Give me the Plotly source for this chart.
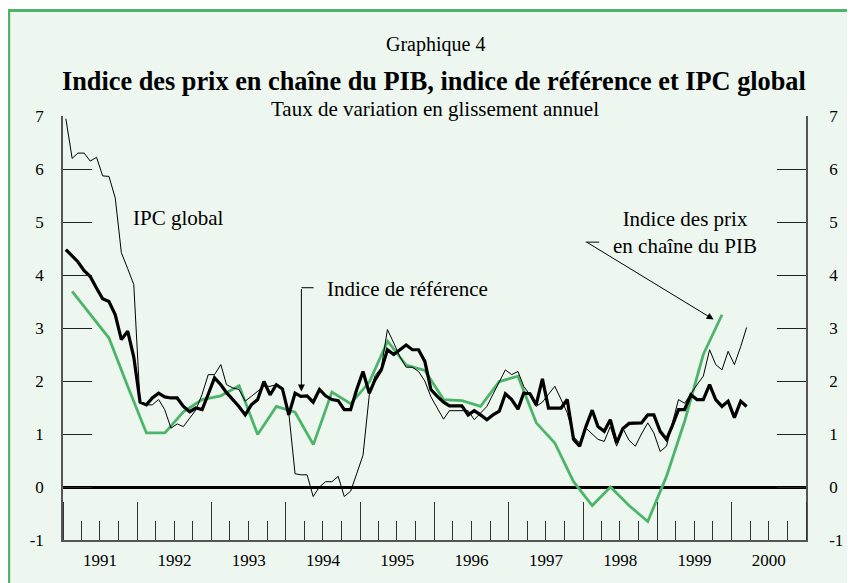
import plotly.graph_objects as go
import pandas as pd

# ---------------- data ----------------
ipc_global = [
    6.95, 6.20, 6.30, 6.30, 6.15, 6.22, 5.87, 5.86, 5.45, 4.42, 4.12, 3.82,   # 1991
    1.58, 1.55, 1.55, 1.65, 1.46, 1.11, 1.19, 1.14, 1.30, 1.45, 1.75, 2.12,   # 1992
    2.12, 2.31, 1.93, 1.87, 1.84, 1.62, 1.71, 1.80, 1.90, 1.90, 1.93, 1.84,   # 1993
    1.40, 0.25, 0.23, 0.23, -0.18, 0.00, 0.10, 0.10, 0.20, -0.18, -0.08, 0.25,  # 1994
    0.60, 1.74, 2.10, 2.25, 2.97, 2.72, 2.46, 2.26, 2.26, 2.18, 2.00, 1.70,   # 1995
    1.50, 1.28, 1.44, 1.44, 1.44, 1.44, 1.27, 1.40, 1.52, 1.75, 1.99, 2.21,   # 1996
    2.12, 2.18, 1.90, 1.74, 1.52, 1.60, 1.75, 1.90, 1.65, 1.40, 0.95, 0.83,   # 1997
    1.11, 1.00, 0.90, 0.86, 1.14, 0.77, 1.11, 0.88, 0.77, 1.00, 1.21, 1.02,   # 1998
    0.67, 0.77, 1.20, 1.65, 1.58, 1.77, 1.93, 2.09, 2.59, 2.31, 2.21, 2.56,   # 1999
    2.31, 2.65, 3.01,                                                         # 2000
]
indice_reference = [
    4.48, 4.35, 4.25, 4.08, 3.97, 3.75, 3.55, 3.50, 3.25, 2.78, 2.94, 2.45,   # 1991
    1.60, 1.55, 1.68, 1.77, 1.70, 1.68, 1.68, 1.52, 1.42, 1.49, 1.46, 1.75,   # 1992
    2.06, 1.93, 1.78, 1.65, 1.52, 1.36, 1.55, 1.65, 1.99, 1.74, 1.93, 1.85,   # 1993
    1.36, 1.77, 1.71, 1.72, 1.60, 1.84, 1.72, 1.65, 1.63, 1.46, 1.46, 1.84,   # 1994
    2.18, 1.77, 2.02, 2.21, 2.59, 2.50, 2.59, 2.68, 2.59, 2.59, 2.37, 1.84,   # 1995
    1.71, 1.60, 1.53, 1.53, 1.53, 1.36, 1.44, 1.36, 1.27, 1.36, 1.43, 1.76,   # 1996
    1.65, 1.47, 1.77, 1.76, 1.55, 2.04, 1.49, 1.49, 1.49, 1.65, 0.90, 0.77,   # 1997
    1.14, 1.45, 1.14, 1.05, 1.27, 0.83, 1.10, 1.20, 1.21, 1.21, 1.36, 1.36,   # 1998
    1.05, 0.90, 1.15, 1.46, 1.46, 1.74, 1.65, 1.65, 1.93, 1.65, 1.52, 1.62,   # 1999
    1.31, 1.62, 1.52,                                                         # 2000
]
indice_pib = [
    3.69, 3.25, 2.81, 1.90,    # 1991
    1.02, 1.02, 1.42, 1.65,    # 1992
    1.72, 1.91, 0.99, 1.52,    # 1993
    1.41, 0.80, 1.79, 1.57,    # 1994
    1.98, 2.75, 2.30, 2.20,    # 1995
    1.65, 1.63, 1.52, 1.99,    # 1996
    2.09, 1.21, 0.83, 0.10,    # 1997
    -0.35, 0.00, -0.35, -0.65, # 1998
    0.20, 1.25, 2.50, 3.25,    # 1999
]
y_ticks = [-1, 0, 1, 2, 3, 4, 5, 6, 7]
y_tick_labels = ["-1", "0", "1", "2", "3", "4", "5", "6", "7"]

months = pd.date_range("1991-01-01", periods=len(ipc_global), freq="MS") + pd.Timedelta(days=14)
quarters = pd.date_range("1991-01-01", periods=len(indice_pib), freq="QS") + pd.Timedelta(days=45)

# ---------------- geometry (page pixels; the page body has an 8px margin) ----------------
OFF = 8
W, H = 855 - OFF, 583 - OFF
L, R, T, B = 63, 809, 116, 540          # plot area in page pixels


def tdate(t):
    return (pd.Timestamp("1991-01-01") + pd.Timedelta(days=(t - 1991) * 365.25)).strftime("%Y-%m-%d")


def pxx(xp):
    return (xp - L) / (R - L)


def pxy(yp):
    return (B - yp) / (B - T)


FONT = "Liberation Serif, Times New Roman, serif"
GREEN = "#4DB56A"
MINT = "#EDF7EF"
TXT = dict(family=FONT, size=21, color="black")

fig = go.Figure()
fig.add_trace(go.Scatter(x=quarters, y=indice_pib, mode="lines",
                         line=dict(color=GREEN, width=2.8), name="Indice des prix en chaîne du PIB"))
fig.add_trace(go.Scatter(x=months, y=ipc_global, mode="lines",
                         line=dict(color="black", width=1), name="IPC global"))
fig.add_trace(go.Scatter(x=months, y=indice_reference, mode="lines",
                         line=dict(color="black", width=3.2), name="Indice de référence"))
# invisible trace so the right-hand axis is drawn
fig.add_trace(go.Scatter(x=[months[0]], y=[None], yaxis="y2", mode="lines",
                         showlegend=False, hoverinfo="skip"))

# frame and background
fig.add_shape(type="rect", xref="paper", yref="paper",
              x0=pxx(8.5), x1=pxx(852.5), y0=pxy(600), y1=pxy(10.5),
              fillcolor=MINT, line=dict(color=GREEN, width=3), layer="below")

# titles
fig.add_annotation(text="Graphique 4", xref="paper", yref="paper", x=pxx(437), y=pxy(45),
                   showarrow=False, font=dict(family=FONT, size=20, color="black"),
                   xanchor="center", yanchor="middle")
fig.add_annotation(text="<b>Indice des prix en chaîne du PIB, indice de référence et IPC global</b>",
                   xref="paper", yref="paper", x=pxx(435), y=pxy(81),
                   showarrow=False, font=dict(family=FONT, size=26.3, color="black"),
                   xanchor="center", yanchor="middle")
fig.add_annotation(text="Taux de variation en glissement annuel", xref="paper", yref="paper",
                   x=pxx(437), y=pxy(109), showarrow=False,
                   font=dict(family=FONT, size=21, color="black"),
                   xanchor="center", yanchor="middle")

# series labels
fig.add_annotation(text="IPC global", x=tdate(1991.917), y=5.08, xanchor="left", yanchor="middle",
                   showarrow=False, font=TXT)
fig.add_annotation(text="Indice de référence", x=tdate(1994.521), y=3.74, xanchor="left",
                   yanchor="middle", showarrow=False, font=TXT)
fig.add_annotation(text="Indice des prix<br>en chaîne du PIB", x=tdate(1999.369), y=4.80,
                   xanchor="center", yanchor="middle", showarrow=False, align="center",
                   font=TXT)

# arrows
fig.add_annotation(text="", x=tdate(1994.209), y=1.80, ax=0, ay=-104, showarrow=True,
                   arrowhead=2, arrowsize=1.4, arrowwidth=1, arrowcolor="black", standoff=0)
fig.add_shape(type="line", x0=tdate(1994.209), x1=tdate(1994.374), y0=3.76, y1=3.76,
              line=dict(color="black", width=1))
fig.add_annotation(text="", x=tdate(1999.759), y=3.16, ax=-128, ay=-78, showarrow=True,
                   arrowhead=2, arrowsize=1.4, arrowwidth=1, arrowcolor="black", standoff=0)
fig.add_shape(type="line", x0=tdate(1998.038), x1=tdate(1998.217), y0=4.62, y1=4.62,
              line=dict(color="black", width=1))

tickfont = dict(family=FONT, size=17, color="black")
fig.update_layout(
    width=W, height=H,
    margin=dict(l=L - OFF, r=855 - R, t=T - OFF, b=583 - B, pad=0),
    paper_bgcolor="white", plot_bgcolor="rgba(0,0,0,0)",
    showlegend=False,
    xaxis=dict(
        type="date", range=["1991-01-01", "2001-01-01"],
        tick0="1991-01-01", dtick="M12", tickformat="%Y", ticklabelmode="period",
        ticks="inside", ticklen=38, tickwidth=1.2, tickcolor="#333",
        minor=dict(dtick="M3", ticks="inside", ticklen=19, tickwidth=1.2, tickcolor="#333"),
        showline=True, linecolor="#555", linewidth=2, showgrid=False, zeroline=False,
        tickfont=tickfont, ticklabelstandoff=4,
    ),
    yaxis=dict(
        range=[-1, 7], tickmode="array", tickvals=y_ticks, ticktext=y_tick_labels,
        ticks="inside", ticklen=29, tickwidth=1.2, tickcolor="#222",
        showline=True, linecolor="#555", linewidth=1.5, showgrid=False,
        zeroline=True, zerolinecolor="black", zerolinewidth=2.5,
        tickfont=tickfont, ticklabelstandoff=14,
    ),
    yaxis2=dict(
        range=[-1, 7], tickmode="array", tickvals=y_ticks, ticktext=y_tick_labels,
        overlaying="y", side="right",
        ticks="inside", ticklen=29, tickwidth=1.2, tickcolor="#222",
        showline=True, linecolor="#555", linewidth=1.5, showgrid=False, zeroline=False,
        tickfont=tickfont, ticklabelstandoff=18,
    ),
)

fig.write_html("out.html")
